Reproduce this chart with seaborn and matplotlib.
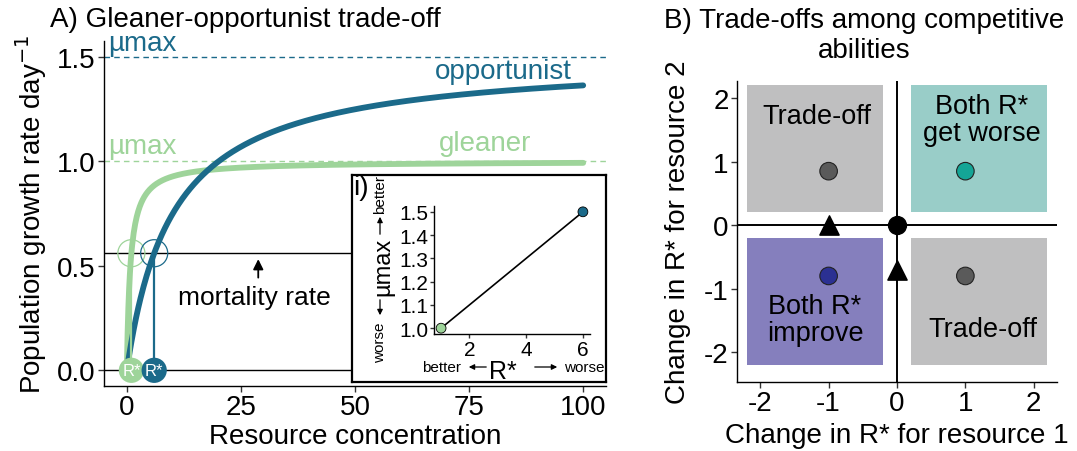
import numpy as np
import pandas as pd
import matplotlib
matplotlib.use("Agg")
import matplotlib.pyplot as plt
from matplotlib.patches import Rectangle, FancyArrowPatch
import seaborn as sns

# ---------------- data ----------------
# Panel A: Monod growth curves (parameters)
species = ["gleaner", "opportunist"]
mu_max = [1.0, 1.5]          # maximum growth rate (day^-1)
r_star = [1.0, 6.0]          # R* where growth equals mortality
mortality = 0.56             # mortality rate (day^-1)
resource_range = [0, 100]

# Panel B: quadrants, points
quad_names = ["Trade-off", "Both R*\nget worse", "Both R*\nimprove", "Trade-off"]
quad_x = [(-2.2, -0.2), (0.2, 2.2), (-2.2, -0.2), (0.2, 2.2)]
quad_y = [(0.2, 2.2), (0.2, 2.2), (-2.2, -0.2), (-2.2, -0.2)]
pt_x = [-1, 1, -1, 1]
pt_y = [0.85, 0.85, -0.8, -0.8]
tri_x = [-1, 0]
tri_y = [0, -0.7]
origin_x = [0]
origin_y = [0]

# ---------------- styles ----------------
C_GLE = "#9ed49a"
C_OPP = "#1b6a8a"
QUAD_COL = ["#bfbfc0", "#99cdc8", "#857fbd", "#bfbfc0"]
PT_COL = ["#5a5a5a", "#14a596", "#2b3092", "#5a5a5a"]

sns.set_theme(style="ticks")
plt.rcParams["font.family"] = ["Liberation Sans", "DejaVu Sans"]
plt.rcParams["axes.unicode_minus"] = False
plt.rcParams["text.color"] = "black"
plt.rcParams["axes.labelcolor"] = "black"
plt.rcParams["xtick.color"] = "black"
plt.rcParams["ytick.color"] = "black"

W, H = 1077, 452
fig = plt.figure(figsize=(W / 100, H / 100), dpi=100)


def rect(l, t, r, b):
    return [l / W, 1 - b / H, (r - l) / W, (b - t) / H]


def fpx(x, y):
    return (x / W, 1 - y / H)


def style_axes(ax, fs):
    for s in ["top", "right"]:
        ax.spines[s].set_visible(False)
    for s in ["left", "bottom"]:
        ax.spines[s].set_color("black")
        ax.spines[s].set_linewidth(1.0)
    ax.tick_params(axis="both", labelsize=fs, length=4, width=1, color="#333333",
                   labelcolor="black", pad=2)


# ---------------- Panel A ----------------
axA = fig.add_axes(rect(104, 42, 606, 387))
R = np.linspace(resource_range[0], resource_range[1], 600)
rows = []
for sp, mu, rs in zip(species, mu_max, r_star):
    K = rs * (mu - mortality) / mortality
    rows.append(pd.DataFrame({"R": R, "growth": mu * R / (K + R), "species": sp}))
dfA = pd.concat(rows)
sns.lineplot(data=dfA, x="R", y="growth", hue="species",
             palette={"gleaner": C_GLE, "opportunist": C_OPP},
             linewidth=4.2, legend=False, ax=axA, zorder=3)

axA.axhline(mu_max[1], color=C_OPP, lw=1.0, ls=(0, (4, 3)), zorder=1)
axA.axhline(mu_max[0], color=C_GLE, lw=1.0, ls=(0, (4, 3)), zorder=1)
axA.axhline(0, color="black", lw=1.0, zorder=1)
axA.axhline(mortality, color="black", lw=1.0, zorder=1)

cols = [C_GLE, C_OPP]
for rs, c in zip(r_star, cols):
    axA.plot([rs, rs], [0, mortality], color=c, lw=1.6, zorder=4)
    axA.scatter([rs], [mortality], s=380, facecolors="none", edgecolors=c,
                linewidths=0.9, zorder=5)
    axA.scatter([rs], [0], s=330, color=c, edgecolors="none", zorder=6)
    axA.text(rs, 0, "R*", color="white", fontsize=12, ha="center", va="center",
             zorder=7)

axA.text(-4.1, 1.565, "µmax", color=C_OPP, fontsize=20, ha="left", va="center")
axA.text(-4.1, 1.075, "µmax", color=C_GLE, fontsize=20, ha="left", va="center")
axA.text(82.6, 1.43, "opportunist", color=C_OPP, fontsize=20, ha="center", va="center")
axA.text(78.5, 1.085, "gleaner", color=C_GLE, fontsize=20, ha="center", va="center")

axA.annotate("", xy=(28.8, 0.545), xytext=(28.8, 0.43),
             arrowprops=dict(arrowstyle="-|>", color="black", lw=1.3,
                             mutation_scale=15))
axA.text(28, 0.35, "mortality rate", fontsize=19, ha="center", va="center")

axA.set_xlim(-5, 105)
axA.set_ylim(-0.075, 1.575)
axA.set_xticks([0, 25, 50, 75, 100])
axA.set_yticks([0.0, 0.5, 1.0, 1.5])
axA.set_yticklabels(["0.0", "0.5", "1.0", "1.5"])
style_axes(axA, 20)
axA.set_xlabel("Resource concentration", fontsize=20, labelpad=2)
axA.set_ylabel("Population growth rate day$^{-1}$", fontsize=20, labelpad=6)

fig.text(50 / W, 1 - 20 / H, "A) Gleaner-opportunist trade-off", fontsize=20,
         ha="left", va="center")

# ---------------- Inset ----------------
axBox = fig.add_axes(rect(352, 176, 606, 383))
axBox.set_xticks([])
axBox.set_yticks([])
axBox.set_facecolor("white")
for s in axBox.spines.values():
    s.set_visible(True)
    s.set_color("black")
    s.set_linewidth(1.6)

axI = fig.add_axes(rect(434, 207, 590, 335))
dfI = pd.DataFrame({"rstar": r_star, "mumax": mu_max, "species": species})
sns.lineplot(data=dfI, x="rstar", y="mumax", color="black", lw=1.2, ax=axI,
             zorder=2)
sns.scatterplot(data=dfI, x="rstar", y="mumax", hue="species",
                palette={"gleaner": C_GLE, "opportunist": C_OPP}, s=50,
                edgecolor="black", linewidth=0.6, legend=False, ax=axI, zorder=3)
axI.set_xlim(0.75, 6.25)
axI.set_ylim(0.975, 1.525)
axI.set_xticks([2, 4, 6])
axI.set_yticks([1.0, 1.1, 1.2, 1.3, 1.4, 1.5])
axI.set_yticklabels(["1.0", "1.1", "1.2", "1.3", "1.4", "1.5"])
axI.set_facecolor("none")
style_axes(axI, 15)
axI.tick_params(length=3, pad=1)
axI.set_xlabel("")
axI.set_ylabel("")

fig.text(*fpx(361, 188), "i)", fontsize=20, ha="center", va="center")
# inset y label pieces
fig.text(*fpx(383, 267), "µmax", fontsize=17, rotation=90, ha="center", va="center")
fig.text(*fpx(380, 343), "worse", fontsize=11, rotation=90, ha="center", va="center")
fig.text(*fpx(380, 195), "better", fontsize=11, rotation=90, ha="center", va="center")
for p0, p1 in [((380, 298), (380, 319)), ((380, 238), (380, 215)),
               ((489, 368), (466, 368)), ((532, 368), (560, 368))]:
    fig.add_artist(FancyArrowPatch(fpx(*p0), fpx(*p1), transform=fig.transFigure,
                                   arrowstyle="-|>", mutation_scale=8, lw=0.9,
                                   color="black"))
# inset x label pieces
fig.text(*fpx(503, 372), "R*", fontsize=18, ha="center", va="center")
fig.text(*fpx(442, 368), "better", fontsize=11, ha="center", va="center")
fig.text(*fpx(584, 368), "worse", fontsize=11, ha="center", va="center")

# ---------------- Panel B ----------------
axB = fig.add_axes(rect(737, 82, 1057, 383))
for (x0, x1), (y0, y1), c in zip(quad_x, quad_y, QUAD_COL):
    axB.add_patch(Rectangle((x0, y0), x1 - x0, y1 - y0, facecolor=c,
                            edgecolor="none", zorder=1))
axB.axvline(0, color="black", lw=1.4, zorder=2)
axB.axhline(0, color="black", lw=1.4, zorder=2)

dfB = pd.DataFrame({"x": pt_x, "y": pt_y, "k": [0, 1, 2, 3]})
sns.scatterplot(data=dfB, x="x", y="y", hue="k",
                palette={i: c for i, c in enumerate(PT_COL)}, s=160,
                edgecolor="#222222", linewidth=0.8, legend=False, ax=axB, zorder=4)
sns.scatterplot(x=tri_x, y=tri_y, marker="^", color="black", s=190,
                edgecolor="black", legend=False, ax=axB, zorder=4)
sns.scatterplot(x=origin_x, y=origin_y, marker="o", color="black", s=165,
                edgecolor="black", legend=False, ax=axB, zorder=5)

quad_label_pos = [(-1.17, 1.72), (1.24, 1.66), (-1.2, -1.48), (1.25, -1.64)]
for name, (tx, ty) in zip(quad_names, quad_label_pos):
    axB.text(tx, ty, name, fontsize=19.5, ha="center", va="center",
             linespacing=1.05, zorder=3)

axB.set_xlim(-2.34, 2.34)
axB.set_ylim(-2.47, 2.27)
axB.set_xticks([-2, -1, 0, 1, 2])
axB.set_yticks([-2, -1, 0, 1, 2])
style_axes(axB, 20)
axB.set_xlabel("Change in R* for resource 1", fontsize=20, labelpad=4)
axB.set_ylabel("Change in R* for resource 2", fontsize=20, labelpad=9)

fig.text(864 / W, 1 - 36 / H, "B) Trade-offs among competitive\nabilities",
         fontsize=20, ha="center", va="center", linespacing=1.2)

fig.savefig("out.png", dpi=100)
